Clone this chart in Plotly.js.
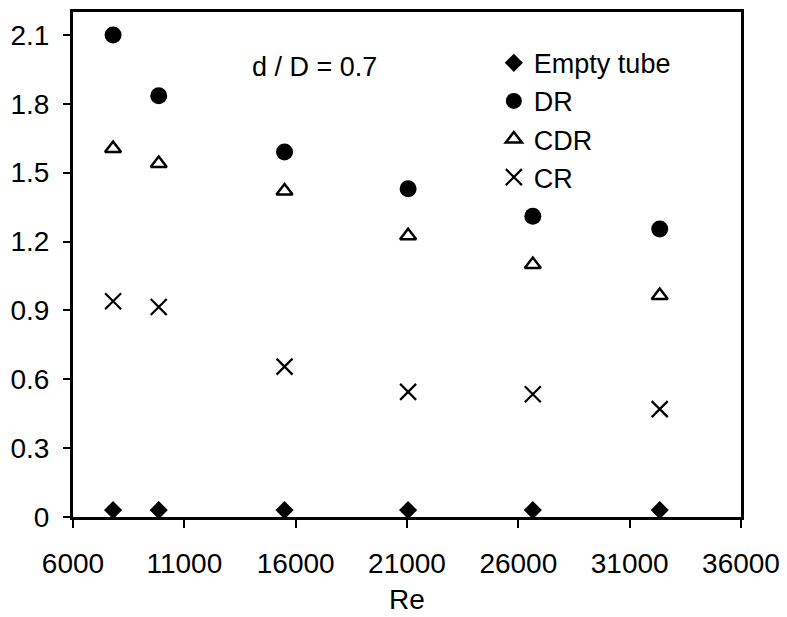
<!DOCTYPE html>
<html>
<head>
<script src="https://cdn.plot.ly/plotly-3.0.1.min.js"></script>
<style>body{margin:0;padding:0;background:#fff}#chart{width:787px;height:617px}</style>
</head>
<body>
<div id="chart"></div>
<script>
const re = [7800, 9850, 15500, 21050, 26650, 32350];
const emptyTube = [0.03, 0.03, 0.03, 0.03, 0.03, 0.03];
const dr = [2.1, 1.835, 1.59, 1.43, 1.31, 1.255];
const cdr = [1.605, 1.54, 1.42, 1.225, 1.1, 0.965];
const cr = [0.94, 0.915, 0.655, 0.545, 0.535, 0.47];
const xTicks = [6000, 11000, 16000, 21000, 26000, 31000, 36000];
const yTicks = [0, 0.3, 0.6, 0.9, 1.2, 1.5, 1.8, 2.1];
const yTickLabels = ['0', '0.3', '0.6', '0.9', '1.2', '1.5', '1.8', '2.1'];

const font = 'Liberation Sans, Arial, sans-serif';
const traces = [
  {x: re, y: emptyTube, name: 'Empty tube', mode: 'markers', type: 'scatter',
   marker: {symbol: 'diamond', size: 14, color: '#000'}},
  {x: re, y: dr, name: 'DR', mode: 'markers', type: 'scatter',
   marker: {symbol: 'circle', size: 17, color: '#000'}},
  {x: re, y: cdr, name: 'CDR', mode: 'markers', type: 'scatter',
   marker: {symbol: 'triangle-up-open', size: 14, color: '#000', line: {width: 2.5, color: '#000'}}},
  {x: re, y: cr, name: 'CR', mode: 'markers', type: 'scatter',
   marker: {symbol: 'x-thin-open', size: 16, color: '#000', line: {width: 2.2, color: '#000'}}}
];

const layout = {
  width: 787, height: 617,
  margin: {l: 73, r: 46, t: 12, b: 100},
  paper_bgcolor: '#fff', plot_bgcolor: '#fff',
  font: {family: font, size: 28, color: '#000'},
  showlegend: true,
  legend: {x: 0.63, y: 0.947, xanchor: 'left', yanchor: 'top', bgcolor: 'rgba(0,0,0,0)',
           font: {family: font, size: 27, color: '#000'}, itemwidth: 30, tracegroupgap: 0},
  xaxis: {range: [6000, 36000], tickvals: xTicks, ticktext: xTicks.map(String),
          showgrid: false, zeroline: false, showline: true, linewidth: 3, linecolor: '#000',
          mirror: true, ticks: 'outside', ticklen: 8, tickwidth: 2, tickcolor: '#000',
          ticklabelstandoff: 11,
          tickfont: {family: font, size: 28, color: '#000'},
          title: {text: 'Re', font: {family: font, size: 28, color: '#000'}, standoff: 12}},
  yaxis: {range: [0, 2.2], tickvals: yTicks, ticktext: yTickLabels,
          showgrid: false, zeroline: false, showline: true, linewidth: 3, linecolor: '#000',
          mirror: true, ticks: 'outside', ticklen: 7, tickwidth: 2, tickcolor: '#000',
          ticklabelstandoff: 8,
          tickfont: {family: font, size: 28, color: '#000'}},
  annotations: [{x: 0.265, y: 0.891, xref: 'paper', yref: 'paper', text: 'd / D = 0.7',
                 showarrow: false, xanchor: 'left', yanchor: 'middle',
                 font: {family: font, size: 27, color: '#000'}}]
};

Plotly.newPlot('chart', traces, layout, {displayModeBar: false, staticPlot: true});
</script>
</body>
</html>
